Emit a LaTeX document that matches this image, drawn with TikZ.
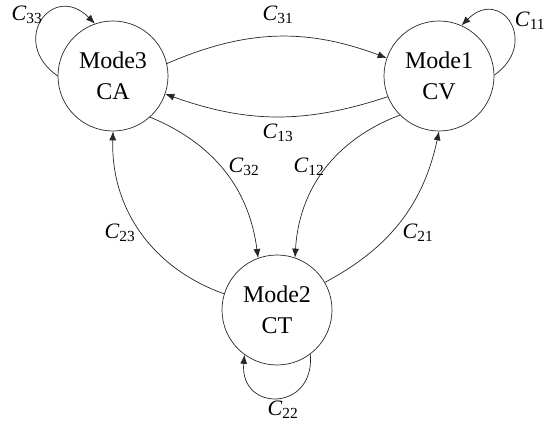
\documentclass[tikz,border=0pt]{standalone}
\usepackage{fontspec}
\setmainfont{Liberation Serif}
\usepackage{tikz}
\usetikzlibrary{arrows.meta}
\tikzstyle{mode} = [circle, draw=black!85, line width=0.7pt, minimum size=110pt,
                    inner sep=0pt, align=center, font=\fontsize{24}{31}\selectfont]
\tikzstyle{arr}  = [-{Latex[length=9pt, width=7pt]}, line width=0.7pt, draw=black!85]
\tikzstyle{lab}  = [font=\fontsize{22}{24}\selectfont, inner sep=0pt]
\newcommand{\trans}[1]{\textit{C}\textsubscript{#1}}

\begin{document}
\begin{tikzpicture}[x=1pt, y=1pt]
    \useasboundingbox (0,0) rectangle (546,426);

    \node[mode] (m3) at (113,350) {Mode3\\CA};
    \node[mode] (m1) at (439,350) {Mode1\\CV};
    \node[mode] (m2) at (277,116) {Mode2\\CT};

    % transitions between modes
    \draw[arr] (m3.13)   to[bend left=22]  (m1.161);
    \draw[arr] (m1.202)  to[bend left=19]  (m3.-19);
    \draw[arr] (m3.-48)  to[bend left=30]  (m2.110);
    \draw[arr] (m1.-135) to[bend right=33] (m2.71);
    \draw[arr] (m2.30)   to[bend right=25] (m1.-90);
    \draw[arr] (m2.163)  to[bend left=36]  (m3.-90);

    % self loops
    \draw[arr] (m3.180) to[out=145, in=135, looseness=2.4] (m3.109);
    \draw[arr] (m1.1)   to[out=35, in=45, looseness=2.4]   (m1.66);
    \draw[arr] (m2.-53) to[out=-85, in=-95, looseness=2.25] (m2.-126);

    \node[lab] (l31) at (278,411) {\trans{31}};
    \node[lab] (l13) at (278,293) {\trans{13}};
    \node[lab] (l32) at (244,259) {\trans{32}};
    \node[lab] (l12) at (309,259) {\trans{12}};
    \node[lab] (l21) at (418,193) {\trans{21}};
    \node[lab] (l23) at (120,193) {\trans{23}};
    \node[lab] (l33) at (27,411)  {\trans{33}};
    \node[lab] (l11) at (530,405) {\trans{11}};
    \node[lab] (l22) at (283,16)  {\trans{22}};
\end{tikzpicture}
\end{document}
